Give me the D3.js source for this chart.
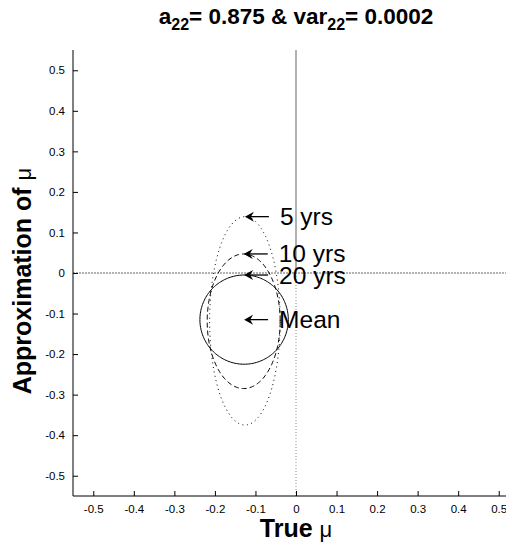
<!DOCTYPE html>
<html><head><meta charset="utf-8">
<script src="https://cdn.jsdelivr.net/npm/d3@7"></script>
<style>body{margin:0;background:#fff}svg{display:block}</style>
</head><body>
<svg id="c" width="506" height="542"></svg>
<script>
// ---- data ----
const xTicks = [-0.5,-0.4,-0.3,-0.2,-0.1,0,0.1,0.2,0.3,0.4,0.5];
const yTicks = [-0.5,-0.4,-0.3,-0.2,-0.1,0,0.1,0.2,0.3,0.4,0.5];
const xTickLabels = ["-0.5","-0.4","-0.3","-0.2","-0.1","0","0.1","0.2","0.3","0.4","0.5"];
const yTickLabels = ["-0.5","-0.4","-0.3","-0.2","-0.1","0","0.1","0.2","0.3","0.4","0.5"];
const horizons = ["5 yrs","10 yrs","20 yrs"];
const ellipseCx = [-0.126,-0.129,-0.128];
const ellipseCy = [-0.118,-0.119,-0.115];
const ellipseRx = [0.087,0.090,0.109];
const ellipseRy = [0.257,0.166,0.110];
const meanLabel = "Mean";
const meanX = -0.128;
const meanY = -0.115;
const xDomain = [-0.55,0.55];
const yDomain = [-0.55,0.55];

// ---- layout ----
const svg = d3.select("#c");
const L=73, R=519, T=50, B=496;
const x = d3.scaleLinear().domain(xDomain).range([L,R]);
const y = d3.scaleLinear().domain(yDomain).range([B,T]);
const FONT = "Liberation Sans, Arial, Helvetica, sans-serif";

// zero lines
svg.append("line").attr("x1",x(xDomain[0])).attr("x2",506).attr("y1",y(0)).attr("y2",y(0))
  .attr("stroke","#666").attr("stroke-width",1).attr("stroke-dasharray","2,1");
svg.append("line").attr("x1",x(0)).attr("x2",x(0)).attr("y1",y(yDomain[1])).attr("y2",y(0))
  .attr("stroke","#888").attr("stroke-width",1.3);
svg.append("line").attr("x1",x(0)).attr("x2",x(0)).attr("y1",y(0)).attr("y2",y(yDomain[0]))
  .attr("stroke","#888").attr("stroke-width",1).attr("stroke-dasharray","1,2");

// ellipses
const styleDash = ["1,3.5","5,3",null];
const lineGen = d3.line().x(d=>x(d[0])).y(d=>y(d[1]));
horizons.forEach((h,i)=>{
  const pts = d3.range(0,181).map(k=>{const t=k/180*2*Math.PI;
    return [ellipseCx[i]+ellipseRx[i]*Math.cos(t), ellipseCy[i]+ellipseRy[i]*Math.sin(t)];});
  const p = svg.append("path").attr("d",lineGen(pts)).attr("fill","none")
    .attr("stroke","#000").attr("stroke-width",1);
  if(styleDash[i]) p.attr("stroke-dasharray",styleDash[i]);
});

// axes
const xAxis = d3.axisBottom(x).tickValues(xTicks).tickFormat((d,i)=>xTickLabels[i]).tickSize(-5).tickPadding(9);
const yAxis = d3.axisLeft(y).tickValues(yTicks).tickFormat((d,i)=>yTickLabels[i]).tickSize(-5).tickPadding(8);
const gx = svg.append("g").attr("transform",`translate(0,${B})`).call(xAxis);
const gy = svg.append("g").attr("transform",`translate(${L},0)`).call(yAxis);
[gx,gy].forEach(g=>{
  g.select(".domain").attr("stroke","#000").attr("stroke-width",1);
  g.selectAll(".tick line").attr("stroke","#000");
  g.selectAll(".tick text").attr("fill","#000").attr("font-family",FONT).attr("font-size",11.5);
});
gx.select(".domain").attr("d",`M${L},0H${R}`);
gy.select(".domain").attr("d",`M0,${B}V${T}`);

// annotations
function arrowLabel(px,py,label){
  const tx=x(px), ty=y(py);
  svg.append("line").attr("x1",tx+2).attr("x2",tx+24).attr("y1",ty).attr("y2",ty)
    .attr("stroke","#000").attr("stroke-width",1.3);
  svg.append("path").attr("d",`M${tx},${ty}L${tx+9},${ty-5}L${tx+6},${ty}L${tx+9},${ty+5}Z`).attr("fill","#000");
  svg.append("text").attr("x",tx+35).attr("y",ty+8.5).attr("font-family",FONT).attr("font-size",24.5)
    .attr("fill","#000").text(label);
}
horizons.forEach((h,i)=>arrowLabel(ellipseCx[i], ellipseCy[i]+ellipseRy[i], h));
arrowLabel(meanX, meanY, meanLabel);

// title
const title = svg.append("text").attr("x",(L+R)/2).attr("y",24).attr("text-anchor","middle")
  .attr("font-family",FONT).attr("font-weight","bold").attr("font-size",22.5).attr("fill","#000");
title.append("tspan").text("a");
title.append("tspan").attr("font-size",16).attr("dy",6).text("22");
title.append("tspan").attr("dy",-6).text("= 0.875 & var");
title.append("tspan").attr("font-size",16).attr("dy",6).text("22");
title.append("tspan").attr("dy",-6).text("= 0.0002");

// axis labels
const xl = svg.append("text").attr("x",(L+R)/2).attr("y",537).attr("text-anchor","middle")
  .attr("font-family",FONT).attr("font-weight","bold").attr("font-size",25).attr("fill","#000");
xl.append("tspan").text("True ");
xl.append("tspan").attr("font-weight","normal").attr("font-size",22).text("μ");
const yl = svg.append("text").attr("transform",`translate(31,${(T+B)/2+8}) rotate(-90)`).attr("text-anchor","middle")
  .attr("font-family",FONT).attr("font-weight","bold").attr("font-size",25).attr("fill","#000");
yl.append("tspan").text("Approximation of ");
yl.append("tspan").attr("font-weight","normal").attr("font-size",22).text("μ");
</script>
</body></html>
